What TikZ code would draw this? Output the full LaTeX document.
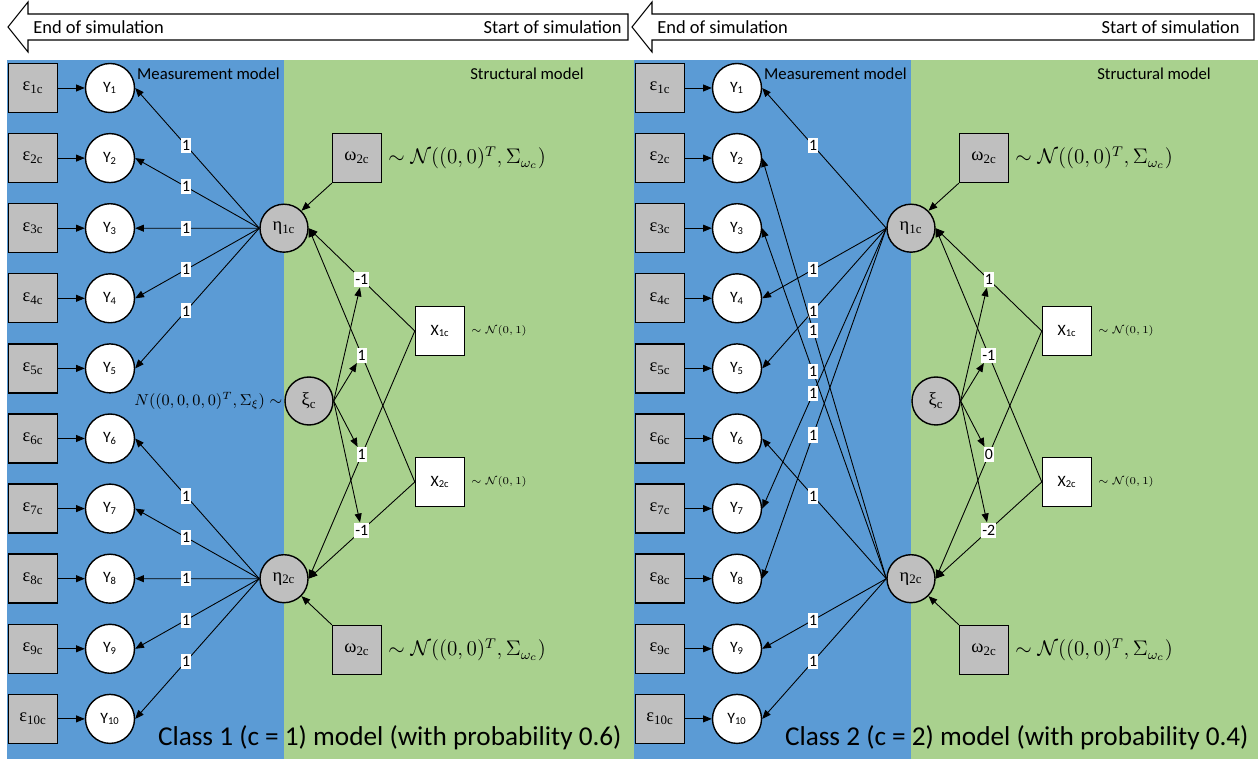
\documentclass[tikz,border=0pt]{standalone}
\usepackage{fontspec}
\setmainfont{Carlito}
\newfontfamily\grkfont{Liberation Serif}
\usetikzlibrary{arrows.meta,calc,positioning}

\definecolor{mblue}{HTML}{5B9BD5}
\definecolor{sgreen}{HTML}{A9D18E}
\definecolor{latgray}{HTML}{BFBFBF}

\begin{document}
\begin{tikzpicture}[
    >={Triangle[length=5pt,width=4pt]},
    link/.style={line width=0.5pt},
    errbox/.style={draw, thick, fill=latgray, minimum size=0.98cm, inner sep=0pt, font=\grkfont\fontsize{10.5}{12}\selectfont},
    obsnode/.style={draw, thick, circle, fill=white, minimum size=0.98cm, inner sep=0pt, font=\small},
    latnode/.style={draw, thick, circle, fill=latgray, minimum size=0.96cm, inner sep=0pt, font=\grkfont\fontsize{10.5}{12}\selectfont},
    covbox/.style={draw, thick, fill=white, minimum size=0.98cm, inner sep=0pt, font=\small},
    wlabel/.style={fill=white, inner xsep=0.7pt, inner ysep=1.4pt, font=\fontsize{9}{10}\selectfont},
    headtext/.style={font=\fontsize{10.5}{12}\selectfont, inner sep=0pt},
    paneltext/.style={font=\fontsize{9.5}{11}\selectfont, inner sep=0pt},
    bigtext/.style={font=\fontsize{15.5}{18}\selectfont, inner sep=0pt}
]
    \useasboundingbox (0,0) rectangle (25.16,15.18);

    % Time arrows
    \draw[fill=white, line width=0.6pt] (0.16,14.64) -- (0.56,15.14) -- (0.56,14.9) -- (12.56,14.9)
        -- (12.56,14.38) -- (0.56,14.38) -- (0.56,14.14) -- cycle;
    \node[anchor=west, headtext] (enda) at (0.66,14.64) {End of simulation};
    \node[anchor=east, headtext] (starta) at (12.44,14.64) {Start of simulation};
    \draw[fill=white, line width=0.6pt] (12.64,14.64) -- (13.04,15.14) -- (13.04,14.9) -- (25.08,14.9)
        -- (25.08,14.38) -- (13.04,14.38) -- (13.04,14.14) -- cycle;
    \node[anchor=west, headtext] (endb) at (13.14,14.64) {End of simulation};
    \node[anchor=east, headtext] (startb) at (24.8,14.64) {Start of simulation};

    % Class 1
    \begin{scope}
        \fill[mblue] (0.14,0) rectangle (5.68,13.98);
        \fill[sgreen] (5.68,0) rectangle (12.7,13.98);
        \node[anchor=east, paneltext] (mma) at (5.6,13.7) {Measurement model};
        \node[paneltext] (sma) at (10.54,13.7) {Structural model};

        \foreach \i in {1,...,10} {
            \node[errbox] (ea\i) at (0.66,{13.42-1.402*(\i-1)}) {ε\textsubscript{\i c}};
            \node[obsnode] (ya\i) at (2.2,{13.42-1.402*(\i-1)}) {Y\textsubscript{\i}};
            \draw[link,->] (ea\i.east) -- (ya\i.west);
        }

        \node[latnode] (etaa1) at (5.68,10.616) {η\textsubscript{1c}};
        \node[latnode] (etaa2) at (5.68,3.606) {η\textsubscript{2c}};
        \node[latnode] (xia) at (6.18,7.16) {ξ\textsubscript{c}};
        \node[covbox] (xa1) at (8.8,8.56) {X\textsubscript{1c}};
        \node[covbox] (xa2) at (8.8,5.54) {X\textsubscript{2c}};
        \node[errbox] (oma1) at (7.14,12.02) {ω\textsubscript{2c}};
        \node[errbox] (oma2) at (7.14,2.18) {ω\textsubscript{2c}};

        \foreach \i in {1,...,5}
            \draw[link,->] (etaa1.west) -- node[wlabel,pos=0.59] {1} (ya\i.east);
        \foreach \i in {6,...,10}
            \draw[link,->] (etaa2.west) -- node[wlabel,pos=0.59] {1} (ya\i.east);

        \draw[link,->] (xa1.west) -- node[wlabel] (sa1) {-1} (etaa1.east);
        \draw[link,->] (xa2.west) -- node[wlabel] (sa2) {1} (etaa1.east);
        \draw[link,->] (xa1.west) -- node[wlabel] (sa3) {1} (etaa2.east);
        \draw[link,->] (xa2.west) -- node[wlabel] (sa4) {-1} (etaa2.east);
        \foreach \k in {1,...,4}
            \draw[link,->] (xia.east) -- (sa\k);

        \draw[link,->] (oma1.south west) -- (etaa1.north east);
        \draw[link,->] (oma2.north west) -- (etaa2.south east);

        \node[right, font=\large] (noma1) at (oma1.east) {$\sim\mathcal{N}((0,0)^T,\Sigma_{\omega_c})$};
        \node[right, font=\large] (noma2) at (oma2.east) {$\sim\mathcal{N}((0,0)^T,\Sigma_{\omega_c})$};
        \node[right, font=\fontsize{6}{7}\selectfont] (nxa1) at (xa1.east) {$\sim\mathcal{N}(0,1)$};
        \node[right, font=\fontsize{6}{7}\selectfont] (nxa2) at (xa2.east) {$\sim\mathcal{N}(0,1)$};
        \node[left, inner sep=1pt, font=\small] (nxia) at (xia.west) {$N((0,0,0,0)^T,\Sigma_\xi)\sim$};

        \node[anchor=east, bigtext] (cla) at (12.44,0.42) {Class 1 (c = 1) model (with probability 0.6)};
    \end{scope}

    % Class 2
    \begin{scope}[xshift=12.54cm]
        \fill[mblue] (0.14,0) rectangle (5.68,13.98);
        \fill[sgreen] (5.68,0) rectangle (12.62,13.98);
        \node[anchor=east, paneltext] (mmb) at (5.6,13.7) {Measurement model};
        \node[paneltext] (smb) at (10.54,13.7) {Structural model};

        \foreach \i in {1,...,10} {
            \node[errbox] (eb\i) at (0.66,{13.42-1.402*(\i-1)}) {ε\textsubscript{\i c}};
            \node[obsnode] (yb\i) at (2.2,{13.42-1.402*(\i-1)}) {Y\textsubscript{\i}};
            \draw[link,->] (eb\i.east) -- (yb\i.west);
        }

        \node[latnode] (etab1) at (5.68,10.616) {η\textsubscript{1c}};
        \node[latnode] (etab2) at (5.68,3.606) {η\textsubscript{2c}};
        \node[latnode] (xib) at (6.18,7.16) {ξ\textsubscript{c}};
        \node[covbox] (xb1) at (8.8,8.56) {X\textsubscript{1c}};
        \node[covbox] (xb2) at (8.8,5.54) {X\textsubscript{2c}};
        \node[errbox] (omb1) at (7.14,12.02) {ω\textsubscript{2c}};
        \node[errbox] (omb2) at (7.14,2.18) {ω\textsubscript{2c}};

        \foreach \i in {1,4,5,7,8}
            \draw[link,->] (etab1.west) -- node[wlabel,pos=0.59] {1} (yb\i.east);
        \foreach \i in {2,3,6,9,10}
            \draw[link,->] (etab2.west) -- node[wlabel,pos=0.59] {1} (yb\i.east);

        \draw[link,->] (xb1.west) -- node[wlabel] (sb1) {1} (etab1.east);
        \draw[link,->] (xb2.west) -- node[wlabel] (sb2) {-1} (etab1.east);
        \draw[link,->] (xb1.west) -- node[wlabel] (sb3) {0} (etab2.east);
        \draw[link,->] (xb2.west) -- node[wlabel] (sb4) {-2} (etab2.east);
        \foreach \k in {1,...,4}
            \draw[link,->] (xib.east) -- (sb\k);

        \draw[link,->] (omb1.south west) -- (etab1.north east);
        \draw[link,->] (omb2.north west) -- (etab2.south east);

        \node[right, font=\large] (nomb1) at (omb1.east) {$\sim\mathcal{N}((0,0)^T,\Sigma_{\omega_c})$};
        \node[right, font=\large] (nomb2) at (omb2.east) {$\sim\mathcal{N}((0,0)^T,\Sigma_{\omega_c})$};
        \node[right, font=\fontsize{6}{7}\selectfont] (nxb1) at (xb1.east) {$\sim\mathcal{N}(0,1)$};
        \node[right, font=\fontsize{6}{7}\selectfont] (nxb2) at (xb2.east) {$\sim\mathcal{N}(0,1)$};

        \node[anchor=east, bigtext] (clb) at (12.44,0.42) {Class 2 (c = 2) model (with probability 0.4)};
    \end{scope}
\end{tikzpicture}
\end{document}
